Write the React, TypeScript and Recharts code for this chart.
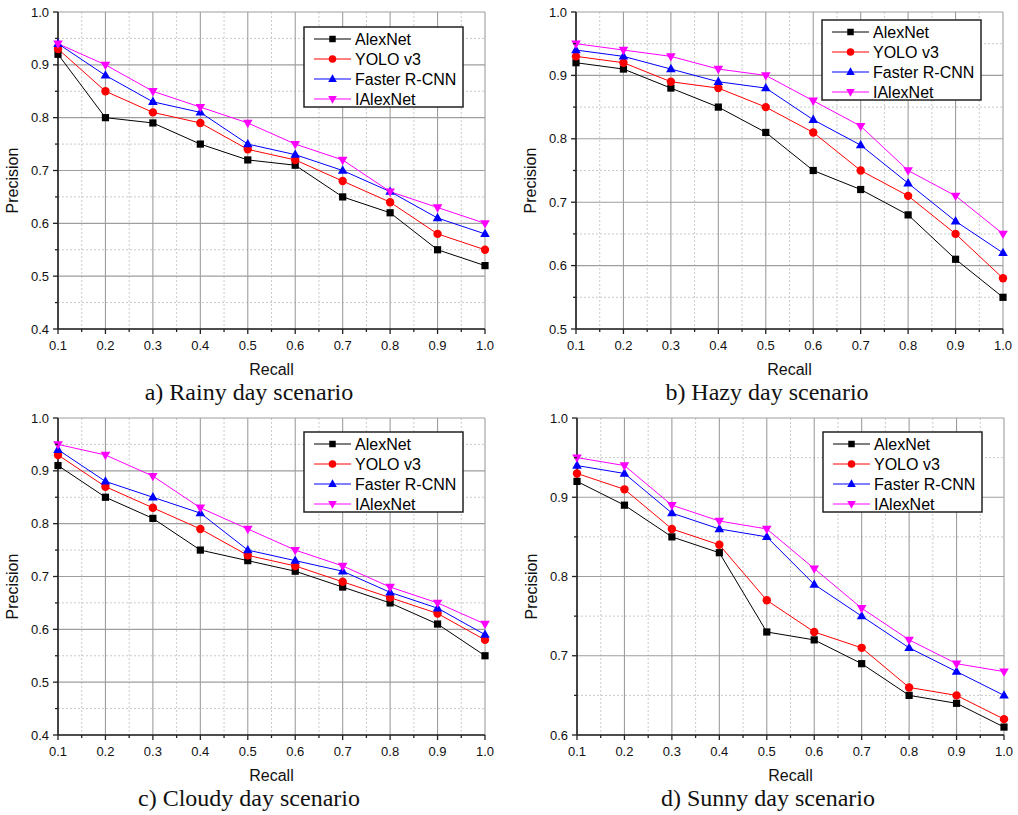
import React from 'react';
import { LineChart, Line, XAxis, YAxis, CartesianGrid } from 'recharts';

// ---------- data ----------
const recall = [0.1, 0.2, 0.3, 0.4, 0.5, 0.6, 0.7, 0.8, 0.9, 1.0];
const xMajorTicks = [0.1, 0.2, 0.3, 0.4, 0.5, 0.6, 0.7, 0.8, 0.9, 1.0];
const xMinorTicks = [0.15, 0.25, 0.35, 0.45, 0.55, 0.65, 0.75, 0.85, 0.95];
const xAllTicks = [0.1, 0.15, 0.2, 0.25, 0.3, 0.35, 0.4, 0.45, 0.5, 0.55, 0.6, 0.65, 0.7, 0.75, 0.8, 0.85, 0.9, 0.95, 1.0];

const seriesNames = ['AlexNet', 'YOLO v3', 'Faster R-CNN', 'IAlexNet'];
const seriesColors = ['#000000', '#ff0000', '#0000ff', '#ff00ff'];
const seriesShapes = ['square', 'circle', 'triangleUp', 'triangleDown'];

const rainyAlexNet = [0.92, 0.80, 0.79, 0.75, 0.72, 0.71, 0.65, 0.62, 0.55, 0.52];
const rainyYolo = [0.93, 0.85, 0.81, 0.79, 0.74, 0.72, 0.68, 0.64, 0.58, 0.55];
const rainyFaster = [0.94, 0.88, 0.83, 0.81, 0.75, 0.73, 0.70, 0.66, 0.61, 0.58];
const rainyIAlexNet = [0.94, 0.90, 0.85, 0.82, 0.79, 0.75, 0.72, 0.66, 0.63, 0.60];

const hazyAlexNet = [0.92, 0.91, 0.88, 0.85, 0.81, 0.75, 0.72, 0.68, 0.61, 0.55];
const hazyYolo = [0.93, 0.92, 0.89, 0.88, 0.85, 0.81, 0.75, 0.71, 0.65, 0.58];
const hazyFaster = [0.94, 0.93, 0.91, 0.89, 0.88, 0.83, 0.79, 0.73, 0.67, 0.62];
const hazyIAlexNet = [0.95, 0.94, 0.93, 0.91, 0.90, 0.86, 0.82, 0.75, 0.71, 0.65];

const cloudyAlexNet = [0.91, 0.85, 0.81, 0.75, 0.73, 0.71, 0.68, 0.65, 0.61, 0.55];
const cloudyYolo = [0.93, 0.87, 0.83, 0.79, 0.74, 0.72, 0.69, 0.66, 0.63, 0.58];
const cloudyFaster = [0.94, 0.88, 0.85, 0.82, 0.75, 0.73, 0.71, 0.67, 0.64, 0.59];
const cloudyIAlexNet = [0.95, 0.93, 0.89, 0.83, 0.79, 0.75, 0.72, 0.68, 0.65, 0.61];

const sunnyAlexNet = [0.92, 0.89, 0.85, 0.83, 0.73, 0.72, 0.69, 0.65, 0.64, 0.61];
const sunnyYolo = [0.93, 0.91, 0.86, 0.84, 0.77, 0.73, 0.71, 0.66, 0.65, 0.62];
const sunnyFaster = [0.94, 0.93, 0.88, 0.86, 0.85, 0.79, 0.75, 0.71, 0.68, 0.65];
const sunnyIAlexNet = [0.95, 0.94, 0.89, 0.87, 0.86, 0.81, 0.76, 0.72, 0.69, 0.68];

const yMajor04 = [0.4, 0.5, 0.6, 0.7, 0.8, 0.9, 1.0];
const yMinor04 = [0.45, 0.55, 0.65, 0.75, 0.85, 0.95];
const yAll04 = [0.4, 0.45, 0.5, 0.55, 0.6, 0.65, 0.7, 0.75, 0.8, 0.85, 0.9, 0.95, 1.0];
const yMajor05 = [0.5, 0.6, 0.7, 0.8, 0.9, 1.0];
const yMinor05 = [0.55, 0.65, 0.75, 0.85, 0.95];
const yAll05 = [0.5, 0.55, 0.6, 0.65, 0.7, 0.75, 0.8, 0.85, 0.9, 0.95, 1.0];
const yMajor06 = [0.6, 0.7, 0.8, 0.9, 1.0];
const yMinor06 = [0.65, 0.75, 0.85, 0.95];
const yAll06 = [0.6, 0.65, 0.7, 0.75, 0.8, 0.85, 0.9, 0.95, 1.0];

// ---------- styling ----------
const SANS = '"Liberation Sans", Arial, sans-serif';
const SERIF = '"Liberation Serif", "Times New Roman", serif';
const AXIS = '#222';

const isIn = (arr: number[], v: number) => arr.some((t) => Math.abs(t - v) < 1e-6);

function Marker({ shape, cx, cy, color, s = 1 }: any) {
  if (cx == null || cy == null) return null;
  if (shape === 'square') {
    const h = 3.6 * s;
    return <rect x={cx - h} y={cy - h} width={2 * h} height={2 * h} fill={color} />;
  }
  if (shape === 'circle') {
    return <circle cx={cx} cy={cy} r={4.2 * s} fill={color} />;
  }
  if (shape === 'triangleUp') {
    const w = 4.8 * s;
    return <polygon points={`${cx},${cy - 5.2 * s} ${cx - w},${cy + 3.2 * s} ${cx + w},${cy + 3.2 * s}`} fill={color} />;
  }
  const w = 4.8 * s;
  return <polygon points={`${cx},${cy + 5.2 * s} ${cx - w},${cy - 3.2 * s} ${cx + w},${cy - 3.2 * s}`} fill={color} />;
}

const XTick = (props: any) => {
  const { x, y, payload } = props;
  const major = isIn(xMajorTicks, payload.value);
  return (
    <g>
      <line x1={x} x2={x} y1={y} y2={y + (major ? 5 : 3)} stroke={AXIS} strokeWidth={1.3} />
      {major && (
        <text x={x} y={y + 21} textAnchor="middle" fontSize={13} fontFamily={SANS} fill="#111">
          {Number(payload.value).toFixed(1)}
        </text>
      )}
    </g>
  );
};

const TopTick = (props: any) => {
  const { x, y, payload } = props;
  const major = isIn(xMajorTicks, payload.value);
  return <line x1={x} x2={x} y1={y} y2={y + (major ? 5 : 3)} stroke={AXIS} strokeWidth={1.3} />;
};

const makeYTick = (majors: number[]) => (props: any) => {
  const { x, y, payload } = props;
  const major = isIn(majors, payload.value);
  return (
    <g>
      <line x1={x} x2={x - (major ? 5 : 3)} y1={y} y2={y} stroke={AXIS} strokeWidth={1.3} />
      {major && (
        <text x={x - 9} y={y + 4.6} textAnchor="end" fontSize={13} fontFamily={SANS} fill="#111">
          {Number(payload.value).toFixed(1)}
        </text>
      )}
    </g>
  );
};

const makeRightTick = (majors: number[]) => (props: any) => {
  const { x, y, payload } = props;
  const major = isIn(majors, payload.value);
  return <line x1={x} x2={x - (major ? 5 : 3)} y1={y} y2={y} stroke={AXIS} strokeWidth={1.3} />;
};

function LegendBox({ top }: { top: number }) {
  return (
    <svg width={162} height={84} style={{ position: 'absolute', left: 303, top: top - 1 }}>
      <rect x={1} y={1} width={159} height={80} fill="#fff" stroke={AXIS} strokeWidth={1.5} />
      {seriesNames.map((name, i) => {
        const cy = 13 + i * 20;
        return (
          <g key={name}>
            <line x1={11} x2={48} y1={cy} y2={cy} stroke={seriesColors[i]} strokeWidth={1} />
            <Marker shape={seriesShapes[i]} cx={29.5} cy={cy} color={seriesColors[i]} s={0.9} />
            <text x={52} y={cy + 5.6} fontSize={16} fontFamily={SANS} fill="#000">
              {name}
            </text>
          </g>
        );
      })}
    </svg>
  );
}

function Panel({ left, top, caption, series, yDomain, yMajor, yMinor, yAll, legendTop }: any) {
  const rows = recall.map((r, i) => ({
    recall: r,
    s0: series[0][i],
    s1: series[1][i],
    s2: series[2][i],
    s3: series[3][i],
  }));
  const YTick = makeYTick(yMajor);
  const RTick = makeRightTick(yMajor);
  return (
    <div style={{ position: 'absolute', left, top, width: 500, height: 406 }}>
      <LineChart width={500} height={400} data={rows} margin={{ top: 12, right: 15, bottom: 0, left: 0 }}>
        <CartesianGrid horizontalValues={yMinor} verticalValues={xMinorTicks} stroke="#c4c4c4" strokeDasharray="2 2" strokeWidth={0.9} />
        <CartesianGrid horizontalValues={yMajor} verticalValues={xMajorTicks} stroke="#9e9e9e" strokeWidth={1.1} />
        <XAxis
          dataKey="recall"
          type="number"
          domain={[0.1, 1]}
          ticks={xAllTicks}
          interval={0}
          tickSize={0}
          tickMargin={0}
          tickLine={false}
          tick={XTick}
          height={71}
          axisLine={{ stroke: AXIS, strokeWidth: 1.6 }}
          label={(p: any) => {
            const vb = p.viewBox;
            return (
              <text x={vb.x + vb.width / 2} y={vb.y + 46} textAnchor="middle" fontSize={16} fontFamily={SANS} fill="#111">
                Recall
              </text>
            );
          }}
        />
        <XAxis
          xAxisId="top"
          orientation="top"
          type="number"
          domain={[0.1, 1]}
          allowDataOverflow
          ticks={xAllTicks}
          interval={0}
          mirror
          height={0}
          tickSize={0}
          tickMargin={0}
          tickLine={false}
          tick={TopTick}
          axisLine={{ stroke: AXIS, strokeWidth: 1.6 }}
        />
        <YAxis
          type="number"
          domain={yDomain}
          ticks={yAll}
          interval={0}
          width={58}
          tickSize={0}
          tickMargin={0}
          tickLine={false}
          tick={YTick}
          axisLine={{ stroke: AXIS, strokeWidth: 1.6 }}
          label={(p: any) => {
            const vb = p.viewBox;
            const cx = vb.x + 12.5;
            const cy = vb.y + vb.height / 2 + 10;
            return (
              <text x={cx} y={cy} transform={`rotate(-90 ${cx} ${cy})`} textAnchor="middle" dominantBaseline="central" fontSize={16} fontFamily={SANS} fill="#111">
                Precision
              </text>
            );
          }}
        />
        <YAxis
          yAxisId="right"
          orientation="right"
          type="number"
          domain={yDomain}
          allowDataOverflow
          ticks={yAll}
          interval={0}
          mirror
          width={0}
          tickSize={0}
          tickMargin={0}
          tickLine={false}
          tick={RTick}
          axisLine={{ stroke: AXIS, strokeWidth: 1.6 }}
        />
        {seriesNames.map((name, i) => (
          <Line
            key={name}
            type="linear"
            dataKey={`s${i}`}
            name={name}
            stroke={seriesColors[i]}
            strokeWidth={1}
            isAnimationActive={false}
            activeDot={false}
            dot={(p: any) => <Marker key={`${name}-${p.index}`} shape={seriesShapes[i]} cx={p.cx} cy={p.cy} color={seriesColors[i]} />}
          />
        ))}
      </LineChart>
      <LegendBox top={legendTop} />
      <div
        style={{
          position: 'absolute',
          left: 0,
          width: 498,
          top: 380,
          textAlign: 'center',
          fontFamily: SERIF,
          fontSize: 24,
          lineHeight: '24px',
          color: '#111',
          whiteSpace: 'nowrap',
        }}
      >
        {caption}
      </div>
    </div>
  );
}

export default function App() {
  return (
    <div style={{ position: 'absolute', left: 0, top: 0, width: 1018, height: 815, background: '#fff', overflow: 'hidden' }}>
      <Panel
        left={0}
        top={0}
        caption="a) Rainy day scenario"
        series={[rainyAlexNet, rainyYolo, rainyFaster, rainyIAlexNet]}
        yDomain={[0.4, 1]}
        yMajor={yMajor04}
        yMinor={yMinor04}
        yAll={yAll04}
        legendTop={27}
      />
      <Panel
        left={518}
        top={0}
        caption="b) Hazy day scenario"
        series={[hazyAlexNet, hazyYolo, hazyFaster, hazyIAlexNet]}
        yDomain={[0.5, 1]}
        yMajor={yMajor05}
        yMinor={yMinor05}
        yAll={yAll05}
        legendTop={20}
      />
      <Panel
        left={0}
        top={406}
        caption="c) Cloudy day scenario"
        series={[cloudyAlexNet, cloudyYolo, cloudyFaster, cloudyIAlexNet]}
        yDomain={[0.4, 1]}
        yMajor={yMajor04}
        yMinor={yMinor04}
        yAll={yAll04}
        legendTop={26}
      />
      <Panel
        left={519}
        top={406}
        caption="d) Sunny day scenario"
        series={[sunnyAlexNet, sunnyYolo, sunnyFaster, sunnyIAlexNet]}
        yDomain={[0.6, 1]}
        yMajor={yMajor06}
        yMinor={yMinor06}
        yAll={yAll06}
        legendTop={26}
      />
    </div>
  );
}
